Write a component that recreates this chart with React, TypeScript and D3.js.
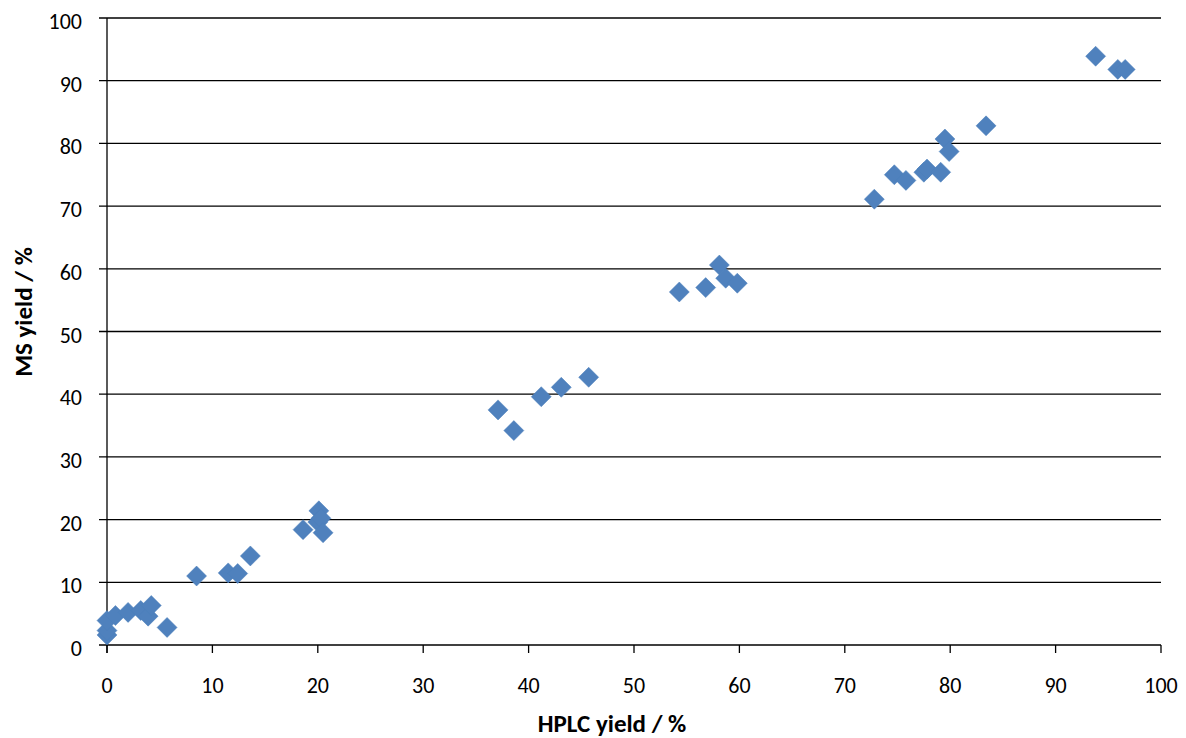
import { useRef, useEffect } from 'react';
import * as d3 from 'd3';

// HPLC yield (%) vs MS yield (%)
const hplcYield = [
  0, 0, 0, 0.8, 2.0, 3.2, 3.9, 4.2, 5.7,
  8.5, 11.5, 12.4, 13.6,
  18.6, 20.1, 20.0, 20.3, 20.5,
  37.1, 38.6, 41.2, 43.1, 45.7,
  54.3, 56.8, 58.1, 58.7, 59.8,
  72.8, 74.7, 75.8, 77.5, 77.8, 79.1, 79.5, 79.9, 83.4,
  93.8, 95.9, 96.6,
];
const msYield = [
  1.6, 2.3, 3.9, 4.7, 5.2, 5.5, 4.6, 6.3, 2.8,
  11.0, 11.5, 11.4, 14.2,
  18.4, 21.4, 19.6, 20.2, 17.9,
  37.5, 34.2, 39.6, 41.1, 42.7,
  56.3, 57.0, 60.6, 58.5, 57.7,
  71.1, 75.0, 74.1, 75.4, 75.9, 75.4, 80.7, 78.7, 82.8,
  93.9, 91.8, 91.8,
];
const xTicks = [0, 10, 20, 30, 40, 50, 60, 70, 80, 90, 100];
const yTicks = [0, 10, 20, 30, 40, 50, 60, 70, 80, 90, 100];

const WIDTH = 1186;
const HEIGHT = 738;
const LEFT = 107;
const RIGHT = 1161;
const TOP = 18;
const BOTTOM = 645;
const FONT = 'Carlito, Calibri, Lato, "Liberation Sans", Arial, sans-serif';

export default function App() {
  const svgRef = useRef<SVGSVGElement>(null);

  useEffect(() => {
    const svg = d3.select(svgRef.current);
    svg.selectAll('*').remove();

    const x = d3.scaleLinear().domain([0, 100]).range([LEFT, RIGHT]);
    const y = d3.scaleLinear().domain([0, 100]).range([BOTTOM, TOP]);

    svg.append('rect').attr('width', WIDTH).attr('height', HEIGHT).attr('fill', '#fff');

    // horizontal gridlines
    yTicks.slice(1).forEach((v) => {
      svg
        .append('line')
        .attr('x1', LEFT - 8)
        .attr('x2', RIGHT)
        .attr('y1', y(v))
        .attr('y2', y(v))
        .attr('stroke', '#000')
        .attr('stroke-width', 1.3);
    });

    // y axis
    svg
      .append('line')
      .attr('x1', LEFT)
      .attr('x2', LEFT)
      .attr('y1', TOP)
      .attr('y2', BOTTOM + 8)
      .attr('stroke', '#000')
      .attr('stroke-width', 1.3);
    // x axis
    svg
      .append('line')
      .attr('x1', LEFT - 8)
      .attr('x2', RIGHT)
      .attr('y1', BOTTOM)
      .attr('y2', BOTTOM)
      .attr('stroke', '#000')
      .attr('stroke-width', 1.3);

    xTicks.forEach((v) => {
      svg
        .append('line')
        .attr('x1', x(v))
        .attr('x2', x(v))
        .attr('y1', BOTTOM)
        .attr('y2', BOTTOM + 8)
        .attr('stroke', '#000')
        .attr('stroke-width', 1.3);
      svg
        .append('text')
        .attr('x', x(v))
        .attr('y', 693)
        .attr('text-anchor', 'middle')
        .attr('font-family', FONT)
        .attr('font-size', 22)
        .attr('fill', '#000')
        .text(v);
    });

    yTicks.forEach((v) => {
      svg
        .append('text')
        .attr('x', 82)
        .attr('y', y(v) + 11)
        .attr('text-anchor', 'end')
        .attr('font-family', FONT)
        .attr('font-size', 22)
        .attr('fill', '#000')
        .text(v);
    });

    // axis titles
    svg
      .append('text')
      .attr('x', 612)
      .attr('y', 732)
      .attr('text-anchor', 'middle')
      .attr('font-family', FONT)
      .attr('font-size', 25)
      .attr('font-weight', 700)
      .text('HPLC yield / %');
    svg
      .append('text')
      .attr('transform', 'translate(32,312) rotate(-90)')
      .attr('text-anchor', 'middle')
      .attr('font-family', FONT)
      .attr('font-size', 25)
      .attr('font-weight', 700)
      .text('MS yield / %');

    // diamond markers
    const diamond = 'M0,-10L10,0L0,10L-10,0Z';
    hplcYield.forEach((hv, i) => {
      svg
        .append('path')
        .attr('d', diamond)
        .attr('transform', `translate(${x(hv)},${y(msYield[i])})`)
        .attr('fill', '#4f81bd')
        .attr('stroke', '#4a7ebb')
        .attr('stroke-width', 0.5);
    });
  }, []);

  return (
    <svg
      ref={svgRef}
      width={WIDTH}
      height={HEIGHT}
      style={{ position: 'absolute', left: 0, top: 0, display: 'block' }}
    />
  );
}
